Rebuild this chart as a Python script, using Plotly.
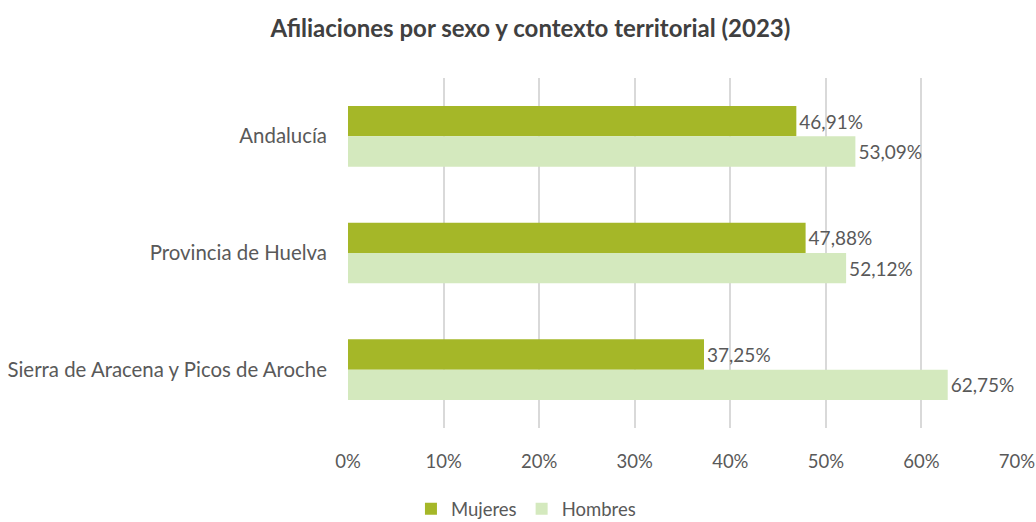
import plotly.graph_objects as go

categories = ["Andalucía", "Provincia de Huelva", "Sierra de Aracena y Picos de Aroche"]
mujeres = [46.91, 47.88, 37.25]
hombres = [53.09, 52.12, 62.75]
tick_vals = [0, 10, 20, 30, 40, 50, 60, 70]
tick_text = ["0%", "10%", "20%", "30%", "40%", "50%", "60%", "70%"]

def fmt(v):
    return f"{v:.2f}".replace(".", ",") + "%"

FONT = "Lato, 'Open Sans', sans-serif"
GREY = "#595959"

fig = go.Figure()
fig.add_trace(go.Bar(
    y=categories, x=mujeres, name="Mujeres", orientation="h",
    marker=dict(color="#A5B728", line=dict(width=0)),
    text=[fmt(v) for v in mujeres], textposition="outside",
    textfont=dict(size=19, color=GREY, family=FONT), cliponaxis=False,
))
fig.add_trace(go.Bar(
    y=categories, x=hombres, name="Hombres", orientation="h",
    marker=dict(color="#D4E9BE", line=dict(width=0)),
    text=[fmt(v) for v in hombres], textposition="outside",
    textfont=dict(size=19, color=GREY, family=FONT), cliponaxis=False,
))

fig.update_layout(
    width=1036, height=522,
    paper_bgcolor="white", plot_bgcolor="white",
    barmode="group", bargap=0.48, bargroupgap=0,
    margin=dict(l=348, r=19, t=78, b=94, autoexpand=False),
    font=dict(family=FONT, color=GREY, size=19),
    title=dict(text="<b>Afiliaciones por sexo y contexto territorial (2023)</b>",
               x=0.512, xref="container", xanchor="center",
               y=0.945, yref="container", yanchor="middle",
               font=dict(size=24, color="#404040", family=FONT)),
    xaxis=dict(range=[0, 70], tickvals=tick_vals, ticktext=tick_text,
               showgrid=True, gridcolor="#D9D9D9", gridwidth=2,
               zeroline=False, showline=False, ticks="", automargin=False,
               ticklabelstandoff=20, tickfont=dict(size=18.5, color=GREY)),
    yaxis=dict(autorange="reversed", showgrid=False, showline=False, ticks="",
               automargin=False,
               ticklabelstandoff=20, tickfont=dict(size=20.4, color=GREY)),
    legend=dict(orientation="h", x=0.266, xanchor="center",
                y=-0.232, yanchor="middle", itemwidth=30,
                font=dict(size=18.5, color=GREY), traceorder="normal"),
)

fig.write_html("out.html", config={"displayModeBar": False},
               post_script="document.body.style.margin='0';document.body.style.padding='0';")
